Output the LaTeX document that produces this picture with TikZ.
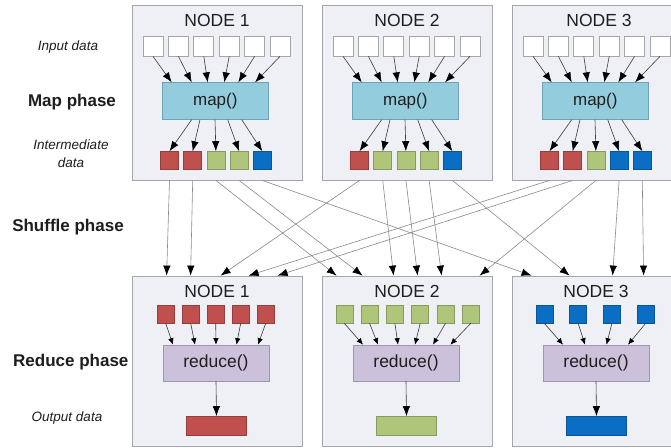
\documentclass[tikz,border=0pt]{standalone}
\usepackage{fontspec}
\setmainfont{Liberation Sans}
\usetikzlibrary{arrows.meta,calc}
\definecolor{boxfill}{HTML}{EEF0F5}
\definecolor{boxdraw}{HTML}{A3A6AB}
\definecolor{mapfill}{HTML}{93CDDD}
\definecolor{mapdraw}{HTML}{6FA3B2}
\definecolor{redfill}{HTML}{CCC1DA}
\definecolor{reddraw}{HTML}{9F96AE}
\definecolor{cred}{HTML}{C0504D}
\definecolor{cgreen}{HTML}{AFC57A}
\definecolor{cblue}{HTML}{0A6EC4}
\definecolor{txt}{HTML}{1E1E1E}
\definecolor{lin}{HTML}{3A3A3A}
\definecolor{slin}{HTML}{8A8A8A}
\begin{document}
\begin{tikzpicture}[x=1pt,y=-1pt,
  nodebox/.style={draw=boxdraw,fill=boxfill,line width=0.8pt,minimum height=175pt,inner sep=0pt},
  titletext/.style={text=txt,font=\fontsize{17.5}{20}\selectfont,inner sep=0pt},
  insq/.style={draw=boxdraw,fill=white,line width=0.7pt,minimum width=20pt,minimum height=20pt,inner sep=0pt},
  sq/.style={line width=0.6pt,minimum width=18pt,minimum height=18pt,inner sep=0pt},
  bsq/.style={line width=0.6pt,minimum width=17pt,minimum height=18pt,inner sep=0pt},
  mapbox/.style={draw=mapdraw,fill=mapfill,line width=0.7pt,minimum width=106pt,minimum height=36.6pt,inner sep=0pt,text=txt,font=\fontsize{17}{19}\selectfont},
  redbox/.style={draw=reddraw,fill=redfill,line width=0.7pt,minimum width=106pt,minimum height=36pt,inner sep=0pt,text=txt,font=\fontsize{17.5}{20}\selectfont},
  outbar/.style={line width=0.6pt,minimum width=60pt,minimum height=19pt,inner sep=0pt},
  arr/.style={draw=lin,line width=0.6pt,-{Latex[length=10pt,width=7.5pt,color=black]}},
  arrsmall/.style={draw=lin,line width=0.6pt,-{Latex[length=6.5pt,width=5.5pt,color=black]}},
  sarr/.style={draw=slin,line width=0.6pt,-{Latex[length=10pt,width=7.5pt,color=black]}},
  phase/.style={text=txt,font=\bfseries\fontsize{17}{20}\selectfont,inner sep=0pt},
  datal/.style={text=txt,font=\itshape\fontsize{13.5}{18}\selectfont,inner sep=0pt,align=center}]
\useasboundingbox (0,0) rectangle (671,447);
\clip (0,0) rectangle (671,447);
\fill[white] (0,0) rectangle (671,447);

% left labels
\node[datal] (lin) at (68,46.7) {Input data};
\node[phase] (lmap) at (72,101.7) {Map phase};
\node[datal] (linter) at (71,154) {Intermediate\\data};
\node[phase] (lshuf) at (68,226.7) {Shuffle phase};
\node[phase] (lred) at (70.8,362) {Reduce phase};
\node[datal] (lout) at (67,418) {Output data};

% top (map) nodes
\foreach \n/\L/\W/\tx/\ca/\cb/\cc/\cd/\ce in {
  1/132/170/217/cred/cred/cgreen/cgreen/cblue,
  2/322/170/407/cred/cgreen/cgreen/cgreen/cblue,
  3/512/178/599/cred/cred/cgreen/cblue/cblue}{
  \node[nodebox,minimum width=\W pt] (T\n) at ({\L+\W/2},92.5) {};
  \node[titletext] (T\n t) at (\tx,20) {NODE \n};
  \node[mapbox] (M\n) at ({\L+83.3},101) {map()};
  \foreach \k/\dx in {0/-43.6,1/-23.6,2/-7.6,3/9,4/23,5/39.7}{
    \node[insq] (I\n\k) at ({\L+21+25.4*\k},46) {};
    \draw[arr] (I\n\k.south) -- ($(M\n.north)+(\dx,0)$);
  }
  \foreach \k/\c/\dx in {0/\ca/-23.6,1/\cb/-15.3,2/\cc/-0.3,3/\cd/12.4,4/\ce/26.4}{
    \node[sq,fill=\c,draw=\c!78!black] (Q\n\k) at ({\L+37.5+23.2*\k},160.5) {};
    \draw[arr] ($(M\n.south)+(\dx,0)$) -- (Q\n\k.north);
  }
}

% bottom (reduce) nodes
\foreach \n/\L/\W/\tx/\c/\fx/\sp/\tips in {
  1/132/170/217/cred/33.7/25/{-43,-21,0,20.5,42},
  2/322/170/407/cgreen/22.3/25.3/{-43,-28,-8,9,27,44.4},
  3/512/178/596/cblue/32.3/33.8/{-33,-11,10.5,32}}{
  \node[nodebox,minimum width=\W pt,minimum height=170pt] (B\n) at ({\L+\W/2},361) {};
  \node[titletext] (B\n t) at (\tx,291) {NODE \n};
  \node[redbox] (R\n) at ({\L+84},363) {reduce()};
  \node[outbar,fill=\c,draw=\c!78!black] (O\n) at ({\L+84.5},426) {};
  \draw[arr] (R\n.south) -- (O\n.north);
  \foreach \dx [count=\k from 0] in \tips {
    \node[bsq,fill=\c,draw=\c!78!black] (S\n\k) at ({\L+\fx+\sp*\k},314) {};
    \draw[arrsmall] (S\n\k.south) -- ($(R\n.north)+(\dx,0)$);
  }
}

% shuffle arrows
\foreach \s/\b/\dx in {10/1/35, 11/1/59, 12/2/15, 13/2/41, 14/3/20,
  20/1/89, 21/2/72, 22/2/96, 23/2/120, 24/3/58,
  30/1/117, 31/1/146, 32/2/158, 33/3/101, 34/3/132}{
  \draw[sarr] (Q\s.south |- T1.south) -- ($(B\b.north west)+(\dx,0)$);
}
\end{tikzpicture}
\end{document}
